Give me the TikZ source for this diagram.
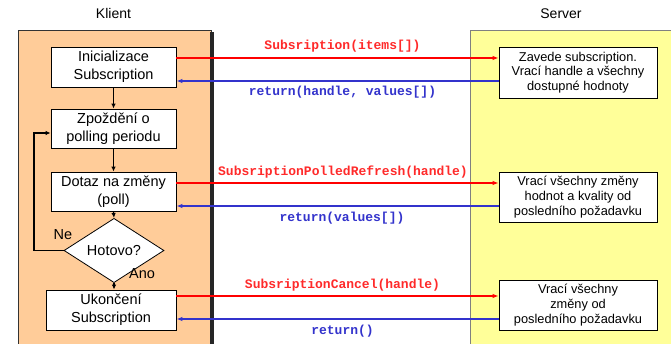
\documentclass[tikz,border=0pt]{standalone}
\usepackage{fontspec}
\setmainfont{Liberation Sans}
\setmonofont{Liberation Mono}
\usetikzlibrary{arrows.meta,shapes.geometric,calc}
\definecolor{clientfill}{HTML}{FFCC99}
\definecolor{serverfill}{HTML}{FFFF99}
\definecolor{reqred}{HTML}{FF0000}
\definecolor{reqtext}{HTML}{FF2A2A}
\definecolor{retblue}{HTML}{3333CC}
\tikzset{
  cbox/.style={draw=black, line width=0.8pt, fill=white, inner sep=0pt, align=center,
    font=\fontsize{14.5}{18}\selectfont},
  sbox/.style={draw=black, line width=0.8pt, fill=white, inner sep=0pt, align=center,
    minimum width=158pt, minimum height=50pt, font=\fontsize{12.8}{14.7}\selectfont},
  flow/.style={draw=black, line width=1.2pt, -{Latex[length=5pt,width=4.5pt]}},
  req/.style={draw=reqred, line width=1.3pt, -{Latex[length=6pt,width=4.5pt]}},
  ret/.style={draw=retblue, line width=1.3pt, -{Latex[length=6pt,width=4.5pt]}},
  reqlbl/.style={text=reqtext, font=\fontsize{13}{15}\ttfamily\bfseries},
  retlbl/.style={text=retblue, font=\fontsize{13}{15}\ttfamily\bfseries},
  title/.style={font=\fontsize{14}{16}\selectfont},
  lbl/.style={font=\fontsize{14.5}{16}\selectfont},
}
\begin{document}
\begin{tikzpicture}[x=1pt,y=-1pt]
\useasboundingbox (0,0) rectangle (671,344);
% panels
\fill[white] (0,0) rectangle (671,344);
\draw[fill=clientfill, draw=black!80, line width=0.6pt] (18,30) rectangle (211,350);
\fill[black!85] (210,32) rectangle (213.5,350);
\draw[fill=serverfill, draw=black!50, line width=0.6pt] (470.5,30) rectangle (680,350);
\node[title] (tk) at (113.5,14) {Klient};
\node[title] (ts) at (561,14) {Server};
% client flow
\node[cbox, minimum width=125pt, minimum height=40pt] (init) at (113.5,67) {Inicializace\\Subscription};
\node[cbox, minimum width=125pt, minimum height=39pt] (wait) at (113.5,128.5) {Zpoždění o\\polling periodu};
\node[cbox, minimum width=125pt, minimum height=39pt] (poll) at (113.5,191.5) {Dotaz na změny\\(poll)};
\node[diamond, draw=black, line width=0.8pt, fill=white, inner sep=0pt, minimum width=100pt, minimum height=33pt, lbl] (dia) at (114,250.5) {Hotovo?};
\node[cbox, minimum width=130pt, minimum height=40pt] (done) at (111,310) {Ukončení\\Subscription};
\draw[flow] (init.south) -- (wait.north);
\draw[flow] (wait.south) -- (poll.north);
\draw[flow] (poll.south) -- (dia.north);
\draw[flow] (dia.south) -- (dia.south |- done.north);
\coordinate (lp) at (34,133);
\draw[flow] (dia.west) -| (lp) -- (lp -| wait.west);
\node[lbl] (ne) at (63,235) {Ne};
\node[lbl] (ano) at (142,274) {Ano};
% server boxes
\node[sbox, minimum height=51pt] (s1) at (578,72.5) {Zavede subscription.\\Vrací handle a všechny\\dostupné hodnoty};
\node[sbox] (s2) at (578,197) {Vrací všechny změny\\hodnot a kvality od\\posledního požadavku};
\node[sbox] (s3) at (578,305) {Vrací všechny\\změny od\\posledního požadavku};
% messages
\coordinate (r1) at (0,58);
\coordinate (b1) at (0,81);
\coordinate (r2) at (0,183);
\coordinate (b2) at (0,206);
\coordinate (r3) at (0,296);
\coordinate (b3) at (0,319);
\draw[req] (init.east |- r1) -- (s1.west |- r1);
\draw[ret] (s1.west |- b1) -- (init.east |- b1);
\draw[req] (poll.east |- r2) -- (s2.west |- r2);
\draw[ret] (s2.west |- b2) -- (poll.east |- b2);
\draw[req] (done.east |- r3) -- (s3.west |- r3);
\draw[ret] (s3.west |- b3) -- (done.east |- b3);
\node[reqlbl] (m1) at (342.5,46) {Subsription(items[])};
\node[retlbl] (m2) at (342.5,92) {return(handle, values[])};
\node[reqlbl] (m3) at (343,172) {SubsriptionPolledRefresh(handle)};
\node[retlbl] (m4) at (342,218) {return(values[])};
\node[reqlbl] (m5) at (342.5,285) {SubsriptionCancel(handle)};
\node[retlbl] (m6) at (342.5,331) {return()};
\end{tikzpicture}
\end{document}
